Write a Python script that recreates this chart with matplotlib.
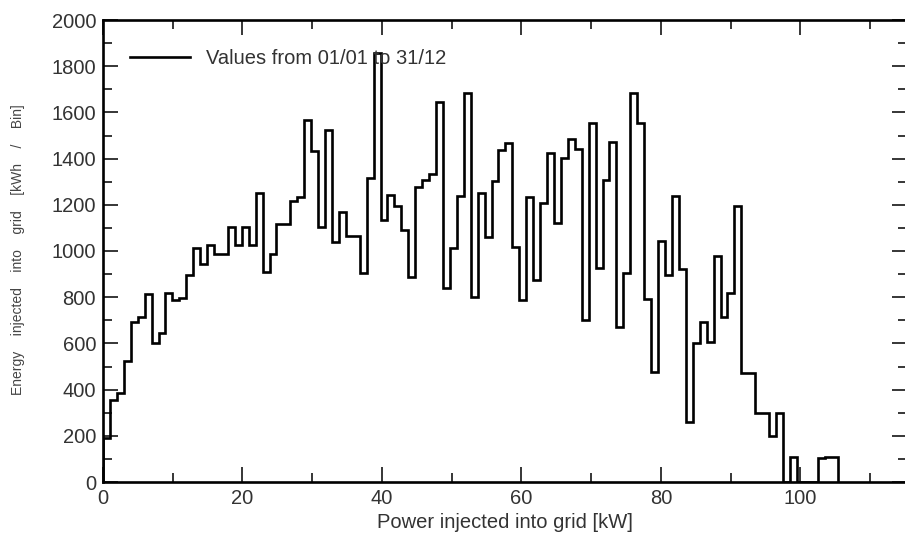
"""
Histogram of energy injected into the grid per 1 kW power bin (whole year).
"""
import numpy as np
import matplotlib
matplotlib.use("Agg")
import matplotlib.pyplot as plt
from matplotlib.ticker import MultipleLocator

# bin width in kW, energy per bin in kWh
BIN_KW = 0.995
energy_kwh = [
    190, 355, 387, 525, 694, 716, 814, 603, 644, 820,
    788, 795, 896, 1012, 942, 1026, 987, 987, 1103, 1026,
    1103, 1026, 1250, 910, 987, 1118, 1118, 1218, 1232, 1568,
    1432, 1105, 1525, 1038, 1170, 1064, 1064, 906, 1315, 1855,
    1134, 1242, 1195, 1091, 889, 1275, 1307, 1332, 1647, 838,
    1014, 1240, 1682, 802, 1250, 1062, 1305, 1437, 1469, 1016,
    790, 1232, 874, 1209, 1423, 1120, 1401, 1483, 1440, 701,
    1553, 925, 1307, 1473, 670, 906, 1683, 1555, 791, 478,
    1045, 896, 1238, 921, 261, 603, 694, 607, 978, 716,
    817, 1195, 471, 471, 297, 297, 199, 300, 0, 107,
    0, 0, 0, 105, 108, 110,
]
x_ticks = [0, 20, 40, 60, 80, 100]
y_ticks = [0, 200, 400, 600, 800, 1000, 1200, 1400, 1600, 1800, 2000]

legend_label = "Values from 01/01 to 31/12"
x_label = "Power injected into grid [kW]"
y_label = "Energy    injected    into    grid    [kWh    /    Bin]"

plt.rcParams["font.family"] = ["Liberation Sans", "DejaVu Sans"]

edges = np.arange(len(energy_kwh) + 1) * BIN_KW

fig = plt.figure(figsize=(9.05, 5.43), dpi=100)
ax = fig.add_axes([103 / 905, 61 / 543, 804 / 905, 462 / 543])

ax.stairs(energy_kwh, edges, color="black", linewidth=1.9, label=legend_label)

ax.set_xlim(0, 115.3)
ax.set_ylim(0, 2000)
ax.set_xticks(x_ticks)
ax.set_yticks(y_ticks)
ax.xaxis.set_minor_locator(MultipleLocator(10))
ax.yaxis.set_minor_locator(MultipleLocator(100))
ax.tick_params(which="both", direction="in", top=True, right=True,
               width=1.1, colors="black", labelsize=14.5, labelcolor="#333333")
ax.tick_params(which="major", length=10.5, pad=5)
ax.tick_params(which="minor", length=6.5)
for sp in ax.spines.values():
    sp.set_linewidth(1.9)

ax.set_xlabel(x_label, fontsize=14.5, color="#333333", labelpad=4)
fig.text(18 / 905, 1 - 250 / 543, y_label, rotation=90, fontsize=10,
         color="#444444", ha="center", va="center")

ax.legend(loc="center left", bbox_to_anchor=(27 / 804, 1 - 39 / 462),
          frameon=False, borderpad=0, borderaxespad=0, handlelength=3.0,
          handletextpad=0.75, fontsize=14.5, labelcolor="#333333")

fig.savefig("out.png", dpi=100)
plt.close(fig)
